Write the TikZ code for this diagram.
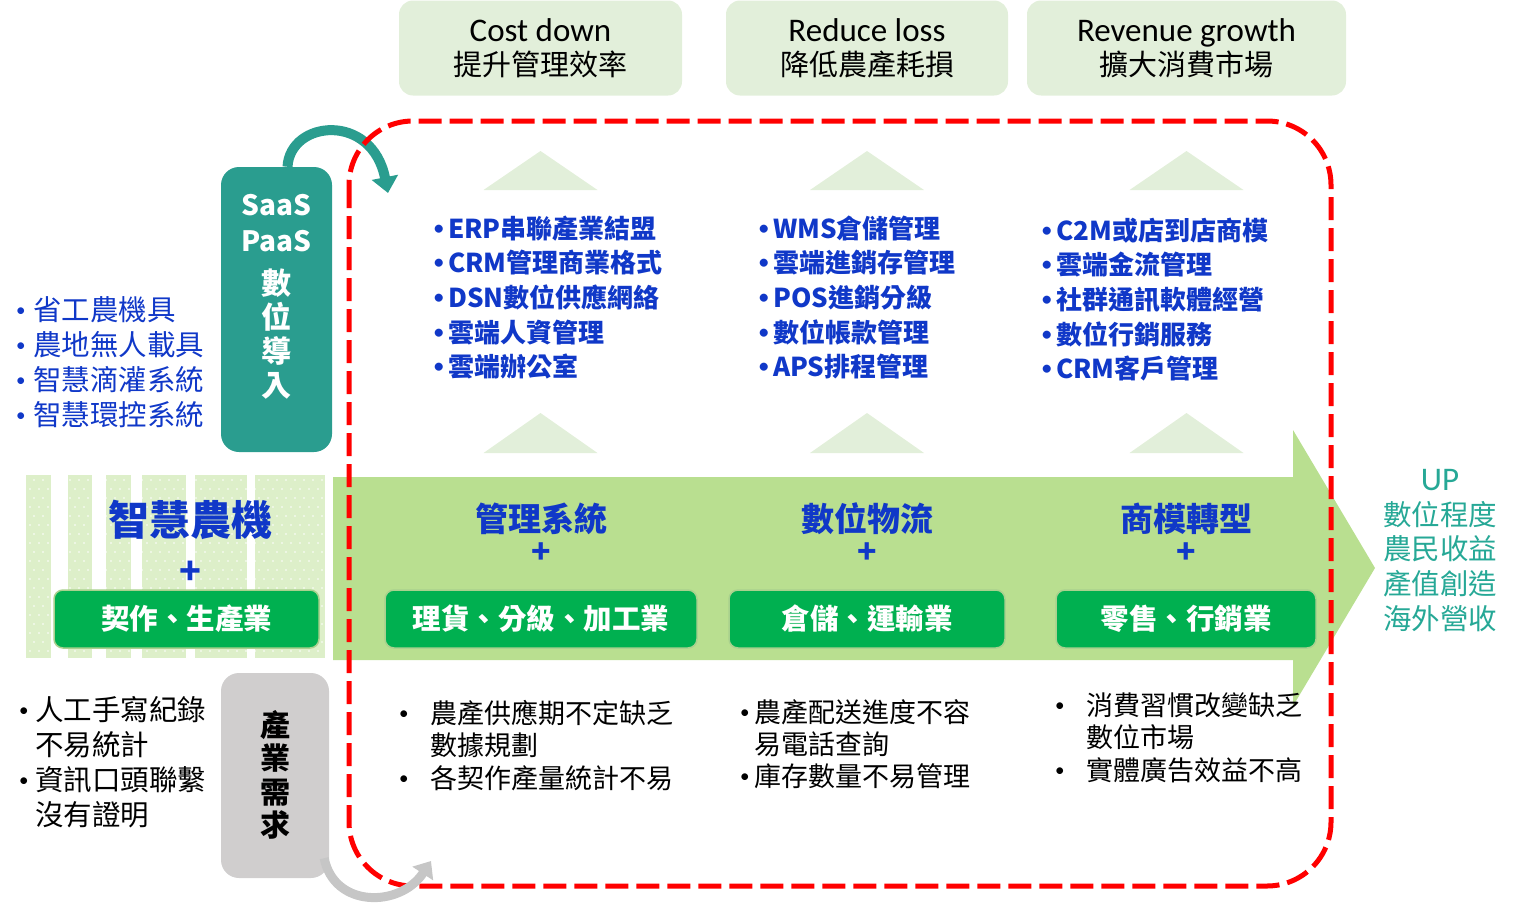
\documentclass[tikz,border=0pt]{standalone}
\usepackage{fontspec}
\setmainfont{Carlito}
\newfontfamily\cjk{Noto Sans CJK TC}
\newfontfamily\bulfont{Carlito}
\usetikzlibrary{arrows.meta}
\definecolor{topgreen}{RGB}{226,239,218}
\definecolor{arrowgreen}{RGB}{185,223,144}
\definecolor{stripegreen}{RGB}{221,239,201}
\definecolor{boxgreen}{RGB}{0,176,80}
\definecolor{boxedge}{RGB}{169,209,142}
\definecolor{tealbox}{RGB}{42,157,143}
\definecolor{tealtext}{RGB}{38,168,150}
\definecolor{listblue}{RGB}{16,56,200}
\definecolor{needgrey}{RGB}{208,206,206}
\newcommand\bul[1]{\makebox[#1][l]{\raisebox{4pt}{\bulfont\fontsize{19}{19}\selectfont •}}}

\begin{document}
\begin{tikzpicture}[x=1pt,y=-1pt,
    topbox/.style={fill=topgreen, rounded corners=14pt, minimum width=#1,
      minimum height=95pt, align=center, font=\fontsize{33}{34}\selectfont},
    greenbox/.style={fill=boxgreen, draw=boxedge, line width=1.5pt,
      rounded corners=9pt, minimum width=#1, minimum height=58pt,
      text=white, font=\cjk\bfseries\fontsize{28.5}{30}\selectfont},
    title/.style={text=listblue, align=center,
      font=\cjk\bfseries\fontsize{33}{34}\selectfont},
    plus/.style={text=listblue, font=\cjk\bfseries\fontsize{32}{30}\selectfont},
    bluelist/.style={anchor=west, align=left, text=listblue, inner sep=0pt,
      font=\cjk\bfseries\fontsize{26}{34.7}\selectfont},
    blacklist/.style={anchor=west, align=left, inner sep=0pt,
      font=\cjk\fontsize{27}{32.5}\selectfont},
    redframe/.style={draw=red, line width=5pt,
      dash pattern=on 23pt off 8pt, rounded corners=64pt}]
  \useasboundingbox (0,0) rectangle (1525,902);

  % goals on top
  \node[topbox=283pt] (cost) at (540.5,48) {Cost down\\{\cjk\fontsize{29}{34}\selectfont 提升管理效率}};
  \node[topbox=282pt] (loss) at (867,48) {Reduce loss\\{\cjk\fontsize{29}{34}\selectfont 降低農產耗損}};
  \node[topbox=319pt] (growth) at (1186.5,48) {Revenue growth\\{\cjk\fontsize{29}{34}\selectfont 擴大消費市場}};

  % small triangles
  \foreach \cx in {540.5,867,1186.5}{
    \fill[topgreen] (\cx-57,190) -- (\cx,151) -- (\cx+57,190) -- cycle;
    \fill[topgreen] (\cx-57,453) -- (\cx,413) -- (\cx+57,453) -- cycle;
  }

  % big arrow
  \fill[arrowgreen] (333,477) -- (1293,477) -- (1293,430) -- (1375,568)
    -- (1293,706) -- (1293,660) -- (333,660) -- cycle;

  % striped field on the left
  \foreach \a/\b in {26/51,68/92,106/131,142/186,195/247,255/325}
    \fill[stripegreen] (\a,475) rectangle (\b,658);
  \foreach \y [count=\i] in {480,489,...,654}
    \foreach \x in {30,39,...,322}
      \fill[white] ({\x+4*mod(\i,2)},\y) circle (0.9);

  % stages
  \node[title, font=\cjk\bfseries\fontsize{41}{42}\selectfont] (farm) at (190,520) {智慧農機};
  \node[plus, font=\cjk\bfseries\fontsize{36}{36}\selectfont] (farmplus) at (190,573) {+};
  \node[greenbox=265pt] (contract) at (186.5,619) {契作、生產業};

  \node[title] (mgmt) at (541,519) {管理系統};
  \node[plus] (mgmtplus) at (541,553) {+};
  \node[greenbox=312pt] (sorting) at (541,619) {理貨、分級、加工業};

  \node[title] (logi) at (867,519) {數位物流};
  \node[plus] (logiplus) at (867,553) {+};
  \node[greenbox=276pt] (storage) at (867,619) {倉儲、運輸業};

  \node[title] (biz) at (1186,519) {商模轉型};
  \node[plus] (bizplus) at (1186,553) {+};
  \node[greenbox=260pt] (retail) at (1186,619) {零售、行銷業};

  % digital tools
  \node[bluelist] (mgmtL) at (434,297.5) {\bul{14pt}ERP串聯產業結盟\\\bul{14pt}CRM管理商業格式\\
    \bul{14pt}DSN數位供應網絡\\\bul{14pt}雲端人資管理\\\bul{14pt}雲端辦公室};
  \node[bluelist] (logiL) at (759,297.5) {\bul{14pt}WMS倉儲管理\\\bul{14pt}雲端進銷存管理\\
    \bul{14pt}POS進銷分級\\\bul{14pt}數位帳款管理\\\bul{14pt}APS排程管理};
  \node[bluelist] (bizL) at (1042,299.5) {\bul{14pt}C2M或店到店商模\\\bul{14pt}雲端金流管理\\
    \bul{14pt}社群通訊軟體經營\\\bul{14pt}數位行銷服務\\\bul{14pt}CRM客戶管理};
  \node[bluelist, font=\cjk\fontsize{28.5}{35}\selectfont] (toolsL) at (16,362.5)
    {\bul{17pt}省工農機具\\\bul{17pt}農地無人載具\\\bul{17pt}智慧滴灌系統\\\bul{17pt}智慧環控系統};

  % SaaS / PaaS
  \node[fill=tealbox, rounded corners=18pt, minimum width=111pt,
    minimum height=285pt] (saas) at (276.5,309.5) {};
  \node[text=white, align=center, font=\cjk\bfseries\fontsize{28}{34}\selectfont]
    (saastext) at (276.5,297) {SaaS\\[2pt]PaaS\\[9pt]{\fontsize{30}{34}\selectfont 數}\\
    {\fontsize{30}{34}\selectfont 位}\\{\fontsize{30}{34}\selectfont 導}\\{\fontsize{30}{34}\selectfont 入}};

  % industry needs
  \node[fill=needgrey, rounded corners=18pt, minimum width=108pt,
    minimum height=205pt] (need) at (275,775.5) {};
  \node[align=center, font=\cjk\bfseries\fontsize{30}{33.3}\selectfont]
    (needtext) at (275,775) {產\\業\\需\\求};

  % problems
  \node[blacklist, font=\cjk\fontsize{28.5}{35}\selectfont] (needL) at (19,762.5)
    {\bul{16pt}人工手寫紀錄\\\hspace*{16pt}不易統計\\\bul{16pt}資訊口頭聯繫\\\hspace*{16pt}沒有證明};
  \node[blacklist] (mgmtN) at (399,745.5)
    {\bul{31pt}農產供應期不定缺乏\\\hspace*{31pt}數據規劃\\\bul{31pt}各契作產量統計不易};
  \node[blacklist, font=\cjk\fontsize{27}{32}\selectfont] (logiN) at (740,744)
    {\bul{14pt}農產配送進度不容\\\hspace*{14pt}易電話查詢\\\bul{14pt}庫存數量不易管理};
  \node[blacklist] (bizN) at (1055,737.5)
    {\bul{31pt}消費習慣改變缺乏\\\hspace*{31pt}數位市場\\\bul{31pt}實體廣告效益不高};

  % outcome
  \node[text=tealtext, align=center, font=\cjk\fontsize{28.5}{34.7}\selectfont]
    (up) at (1440,550.5) {{\fontsize{33}{34.7}\selectfont\bulfont UP}\\數位程度\\農民收益\\產值創造\\海外營收};

  % curved arrows and frame
  \coordinate (saasend) at (388,193);
  \coordinate (needend) at (431,861);
  \draw[tealbox, line width=10pt, -{Triangle[width=26pt,length=16pt]}]
    ([xshift=11pt]saas.north) .. controls (290,120) and (372,112) .. (saasend);
  \draw[redframe] (349,121) rectangle (1331,886);
  \draw[gray!45, line width=9pt, -{Triangle[width=24pt,length=15pt]}]
    ([shift={(-5,-20)}]need.south east) .. controls (334,908) and (400,908) .. (needend);
\end{tikzpicture}
\end{document}
